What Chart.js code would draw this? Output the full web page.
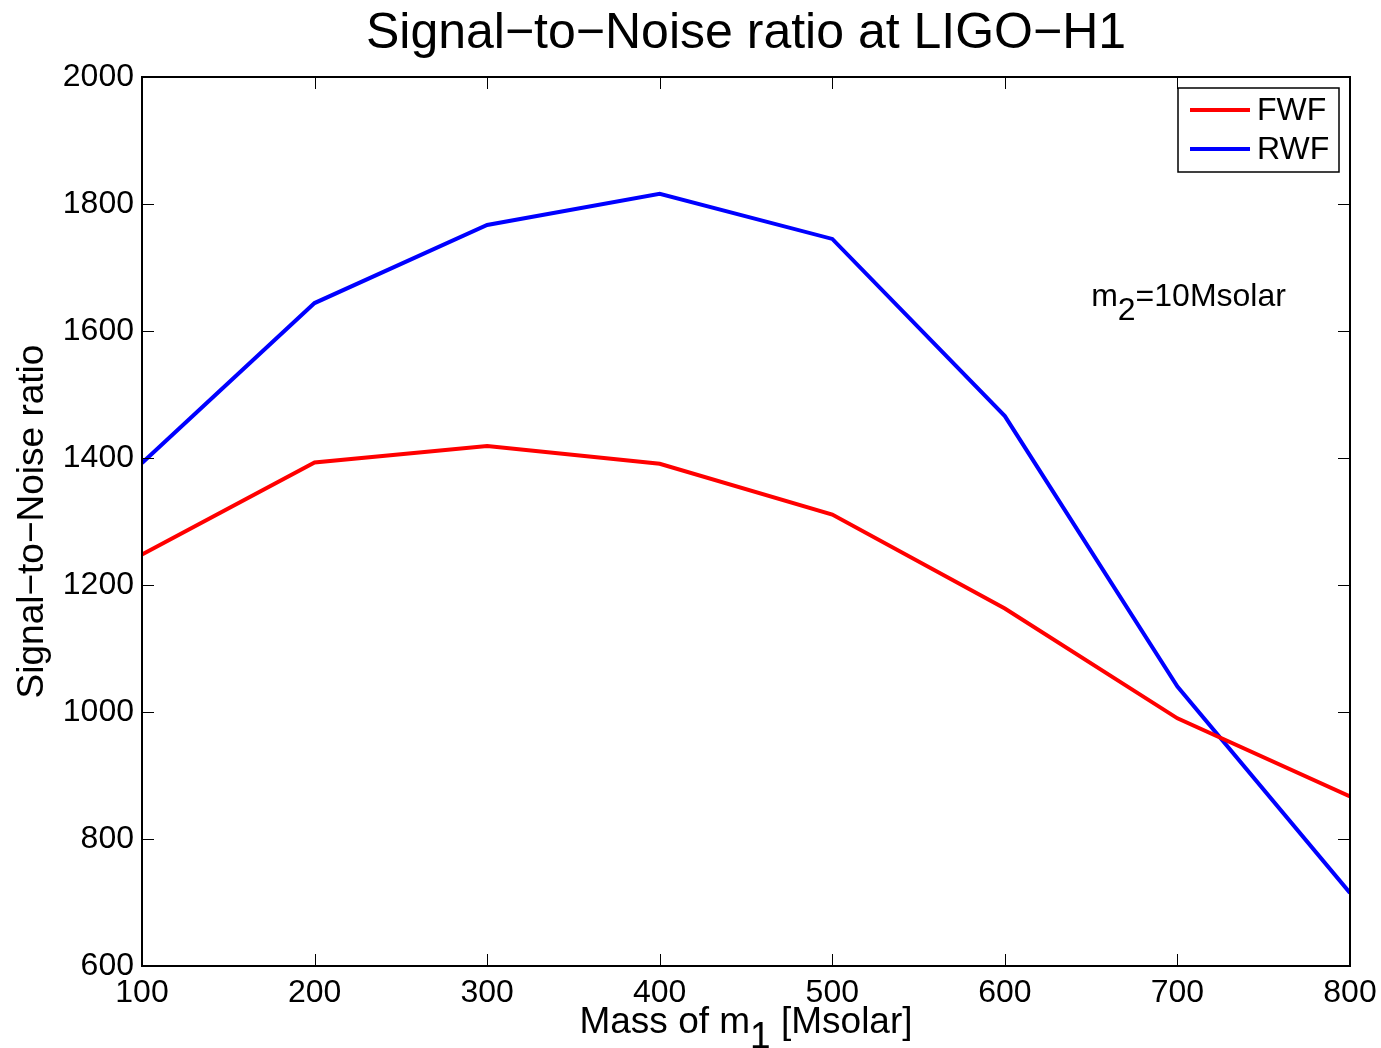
<!DOCTYPE html>
<html>
<head>
<meta charset="utf-8">
<script src="https://cdn.jsdelivr.net/npm/chart.js@4/dist/chart.umd.min.js"></script>
<style>
  html, body { margin: 0; padding: 0; background: #fff; }
</style>
</head>
<body>
<canvas id="snrChart" width="1381" height="1048"></canvas>
<script>
const masses = [100, 200, 300, 400, 500, 600, 700, 800];
const fwfSnr = [1248, 1393, 1419, 1391, 1311, 1163, 990, 867];
const rwfSnr = [1392, 1644, 1767, 1816, 1745, 1466, 1040, 715];
const xTicks = [100, 200, 300, 400, 500, 600, 700, 800];
const yTicks = [600, 800, 1000, 1200, 1400, 1600, 1800, 2000];
const seriesNames = ["FWF", "RWF"];

const FONT = "'Liberation Sans', Arial, Helvetica, sans-serif";

function toPoints(ys) {
  return masses.map((m, i) => ({ x: m, y: ys[i] }));
}

// draws the frame, inward ticks, legend, x title and the note
const matlabLook = {
  id: "matlabLook",
  afterDraw(chart) {
    const ctx = chart.ctx;
    const a = chart.chartArea;
    const xs = chart.scales.x;
    const ys = chart.scales.y;
    ctx.save();

    // ticks, both sides
    ctx.strokeStyle = "#000";
    ctx.lineWidth = 1;
    ctx.beginPath();
    xTicks.forEach((v) => {
      const px = Math.round(xs.getPixelForValue(v)) + 0.5;
      ctx.moveTo(px, a.bottom);
      ctx.lineTo(px, a.bottom - 12);
      ctx.moveTo(px, a.top);
      ctx.lineTo(px, a.top + 12);
    });
    yTicks.forEach((v) => {
      const py = Math.round(ys.getPixelForValue(v)) + 0.5;
      ctx.moveTo(a.left, py);
      ctx.lineTo(a.left + 12, py);
      ctx.moveTo(a.right, py);
      ctx.lineTo(a.right - 12, py);
    });
    ctx.stroke();

    // frame
    ctx.lineWidth = 2;
    ctx.strokeRect(a.left, a.top, a.right - a.left, a.bottom - a.top);

    // legend box
    ctx.lineWidth = 1.5;
    ctx.fillStyle = "#fff";
    ctx.fillRect(1178, 88, 161, 84);
    ctx.strokeRect(1178, 88, 161, 84);
    ctx.font = "32px " + FONT;
    ctx.textBaseline = "middle";
    ctx.textAlign = "left";
    chart.data.datasets.forEach((ds, i) => {
      const ly = 110 + i * 39;
      ctx.strokeStyle = ds.borderColor;
      ctx.lineWidth = 4;
      ctx.beginPath();
      ctx.moveTo(1190, ly);
      ctx.lineTo(1250, ly);
      ctx.stroke();
      ctx.fillStyle = "#000";
      ctx.fillText(ds.label, 1257, ly + 1);
    });

    // x axis title with subscript
    ctx.fillStyle = "#000";
    ctx.font = "37px " + FONT;
    ctx.textBaseline = "alphabetic";
    const p1 = "Mass of m", sub = "1", p2 = " [Msolar]";
    const w1 = ctx.measureText(p1).width;
    const ws = ctx.measureText(sub).width;
    const w2 = ctx.measureText(p2).width;
    const tx = (a.left + a.right) / 2 - (w1 + ws + w2) / 2;
    const base = 1033;
    ctx.fillText(p1, tx, base);
    ctx.fillText(sub, tx + w1, base + 15);
    ctx.fillText(p2, tx + w1 + ws, base);

    // note m2=10Msolar
    ctx.font = "32px " + FONT;
    const nx = xs.getPixelForValue(650);
    const ny = ys.getPixelForValue(1640);
    const wm = ctx.measureText("m").width;
    const w2s = ctx.measureText("2").width;
    ctx.fillText("m", nx, ny);
    ctx.fillText("2", nx + wm, ny + 14);
    ctx.fillText("=10Msolar", nx + wm + w2s, ny);

    ctx.restore();
  },
};

new Chart(document.getElementById("snrChart"), {
  type: "line",
  data: {
    datasets: [
      {
        label: seriesNames[0],
        data: toPoints(fwfSnr),
        borderColor: "#ff0000",
        borderWidth: 4,
        pointRadius: 0,
        tension: 0,
        fill: false,
      },
      {
        label: seriesNames[1],
        data: toPoints(rwfSnr),
        borderColor: "#0000ff",
        borderWidth: 4,
        pointRadius: 0,
        tension: 0,
        fill: false,
      },
    ],
  },
  options: {
    responsive: false,
    animation: false,
    layout: {
      padding: { left: 0, right: 31, top: 0, bottom: 0 },
    },
    scales: {
      x: {
        type: "linear",
        min: 100,
        max: 800,
        afterBuildTicks: (s) => {
          s.ticks = xTicks.map((v) => ({ value: v }));
        },
        afterFit: (s) => {
          s.height = 82;
          s.paddingLeft = 0;
          s.paddingRight = 0;
        },
        grid: { display: false },
        border: { display: false },
        ticks: {
          color: "#000",
          padding: 0,
          maxRotation: 0,
          callback: (v) => String(v),
          font: { family: FONT, size: 32 },
        },
      },
      y: {
        min: 600,
        max: 2000,
        afterBuildTicks: (s) => {
          s.ticks = yTicks.map((v) => ({ value: v }));
        },
        afterFit: (s) => {
          s.width = 142;
          s.paddingTop = 0;
          s.paddingBottom = 0;
        },
        grid: { display: false },
        border: { display: false },
        title: {
          display: true,
          text: "Signal\u2212to\u2212Noise ratio",
          color: "#000",
          font: { family: FONT, size: 37 },
          padding: { top: 11, bottom: 0 },
        },
        ticks: {
          color: "#000",
          padding: 0,
          callback: (v) => String(v),
          font: { family: FONT, size: 32 },
        },
      },
    },
    plugins: {
      legend: { display: false },
      tooltip: { enabled: false },
      title: {
        display: true,
        fullSize: false,
        text: "Signal\u2212to\u2212Noise ratio at LIGO\u2212H1",
        color: "#000",
        font: { family: FONT, size: 50, weight: "normal" },
        padding: { top: 4, bottom: 13 },
      },
    },
  },
  plugins: [matlabLook],
});
</script>
</body>
</html>
